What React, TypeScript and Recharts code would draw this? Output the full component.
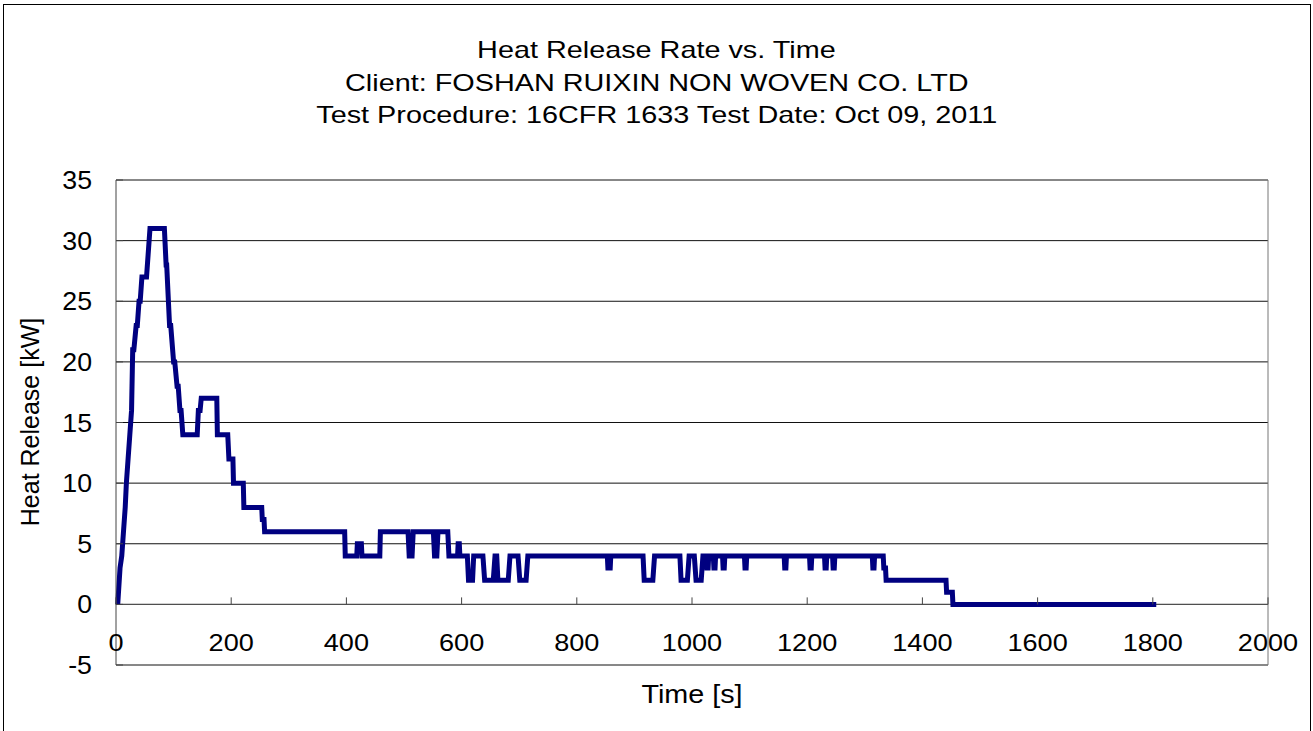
import React from 'react';
import {
  LineChart,
  Line,
  XAxis,
  YAxis,
  CartesianGrid,
  ReferenceLine
} from 'recharts';

// sample times (s) and heat release (kW)
const timeSec = [
  3, 7, 10, 13, 16, 18, 21, 24, 27, 29, 31, 35, 37, 40, 42, 45, 53, 59, 84, 87,
  88, 93, 95, 100, 102, 106, 108, 111, 113, 116, 141, 143, 146, 148, 175, 176, 194, 196, 203, 204,
  221, 222, 253, 254, 257, 258, 397, 398, 418, 419, 426, 427, 458, 459, 507, 509, 514, 516, 551, 553,
  557, 559, 576, 578, 593, 594, 596, 597, 610, 612, 619, 621, 637, 640, 655, 658, 661, 663, 681, 684,
  698, 701, 712, 715, 853, 854, 858, 859, 915, 917, 932, 935, 979, 981, 992, 995, 1004, 1007, 1016, 1019,
  1025, 1026, 1028, 1029, 1037, 1038, 1040, 1041, 1053, 1054, 1056, 1057, 1091, 1092, 1094, 1095, 1160, 1161, 1163, 1164,
  1204, 1205, 1207, 1208, 1230, 1231, 1233, 1234, 1244, 1245, 1247, 1248, 1313, 1314, 1316, 1317, 1332, 1333, 1336, 1337,
  1441, 1442, 1452, 1453, 1806
];
const heatKw = [
  0, 3, 4, 6, 8, 10, 12, 14, 16, 21, 21, 23, 23, 25, 25, 27, 27, 31, 31, 28,
  28, 23, 23, 20, 20, 18, 18, 16, 16, 14, 14, 16, 16, 17, 17, 14, 14, 12, 12, 10,
  10, 8, 8, 7, 7, 6, 6, 4, 4, 5, 5, 4, 4, 6, 6, 4, 4, 6, 6, 4,
  4, 6, 6, 4, 4, 5, 5, 4, 4, 2, 2, 4, 4, 2, 2, 4, 4, 2, 2, 4,
  4, 2, 2, 4, 4, 3, 3, 4, 4, 2, 2, 4, 4, 2, 2, 4, 4, 2, 2, 4,
  4, 3, 3, 4, 4, 3, 3, 4, 4, 3, 3, 4, 4, 3, 3, 4, 4, 3, 3, 4,
  4, 3, 3, 4, 4, 3, 3, 4, 4, 3, 3, 4, 4, 3, 3, 4, 4, 3, 3, 2,
  2, 1, 1, 0, 0
];

const xTicks = [0, 200, 400, 600, 800, 1000, 1200, 1400, 1600, 1800, 2000];
const yTicks = [-5, 0, 5, 10, 15, 20, 25, 30, 35];

const titleLines = [
  'Heat Release Rate vs. Time',
  'Client: FOSHAN RUIXIN NON WOVEN CO. LTD',
  'Test Procedure: 16CFR 1633 Test Date: Oct 09, 2011'
];

const W = 1313;
const H = 731;
const PLOT_LEFT = 116;
const PLOT_RIGHT = 1268;
const PLOT_TOP = 180;
const PLOT_BOTTOM = 665;
const XAXIS_H = 30;
const ZERO_Y = PLOT_TOP + (PLOT_BOTTOM - PLOT_TOP) * (35 / 40);
const FONT = '"Liberation Sans", Arial, Helvetica, sans-serif';

// the source picture has text slightly stretched sideways
const XTick = ({ x, payload }: any) => (
  <g>
    <line x1={x} x2={x} y1={ZERO_Y} y2={ZERO_Y - 7} stroke="#444" />
    <text
      transform={`translate(${x},${ZERO_Y + 47}) scale(1.13,1)`}
      textAnchor="middle"
      fontSize={24}
      fontFamily={FONT}
      fill="#000"
    >
      {payload.value}
    </text>
  </g>
);

const YTick = ({ y, payload }: any) => (
  <g>
    <line x1={PLOT_LEFT} x2={PLOT_LEFT + 7} y1={y} y2={y} stroke="#444" />
    <text
      transform={`translate(92,${y + 9}) scale(1.07,1)`}
      textAnchor="end"
      fontSize={25}
      fontFamily={FONT}
      fill="#000"
    >
      {payload.value}
    </text>
  </g>
);

export default function App() {
  const data = timeSec.map((t, i) => ({ t, hrr: heatKw[i] }));

  return (
    <div style={{ position: 'absolute', left: 0, top: 0, width: W, height: H, background: '#fff', fontFamily: FONT }}>
      <div style={{ position: 'absolute', left: 3, top: 4, width: W - 7, height: H + 10, border: '1px solid #000' }} />

      <div style={{ position: 'absolute', left: 0, top: 34, width: W, textAlign: 'center', fontSize: 24, lineHeight: '32.5px', color: '#000' }}>
        {titleLines.map((l) => (
          <div key={l}>
            <span style={{ display: 'inline-block', transform: 'scaleX(1.2)' }}>{l}</span>
          </div>
        ))}
      </div>

      <LineChart
        width={W}
        height={H}
        data={data}
        margin={{ top: PLOT_TOP, right: W - PLOT_RIGHT, bottom: H - PLOT_BOTTOM - XAXIS_H, left: 0 }}
        style={{ position: 'absolute', left: 0, top: 0 }}
      >
        <CartesianGrid vertical={false} stroke="#111" strokeWidth={1} />
        <XAxis
          dataKey="t"
          type="number"
          domain={[0, 2000]}
          ticks={xTicks}
          axisLine={false}
          tickLine={false}
          height={XAXIS_H}
          tick={<XTick />}
          interval={0}
        />
        <YAxis
          type="number"
          domain={[-5, 35]}
          ticks={yTicks}
          width={PLOT_LEFT}
          axisLine={{ stroke: '#444' }}
          tickLine={false}
          tick={<YTick />}
          interval={0}
        />
        <ReferenceLine x={2000} stroke="#777" />
        <ReferenceLine y={0} stroke="#555" />
        <Line
          type="linear"
          dataKey="hrr"
          stroke="#000080"
          strokeWidth={5}
          dot={false}
          isAnimationActive={false}
        />
      </LineChart>

      <div style={{ position: 'absolute', left: PLOT_LEFT, top: 680, width: PLOT_RIGHT - PLOT_LEFT, textAlign: 'center', fontSize: 25, color: '#000' }}>
        <span style={{ display: 'inline-block', transform: 'scaleX(1.15)' }}>Time [s]</span>
      </div>
      <div
        style={{
          position: 'absolute',
          left: 30,
          top: 422,
          fontSize: 25,
          color: '#000',
          whiteSpace: 'nowrap',
          transform: 'translate(-50%, -50%) rotate(-90deg)'
        }}
      >
        Heat Release [kW]
      </div>
    </div>
  );
}
